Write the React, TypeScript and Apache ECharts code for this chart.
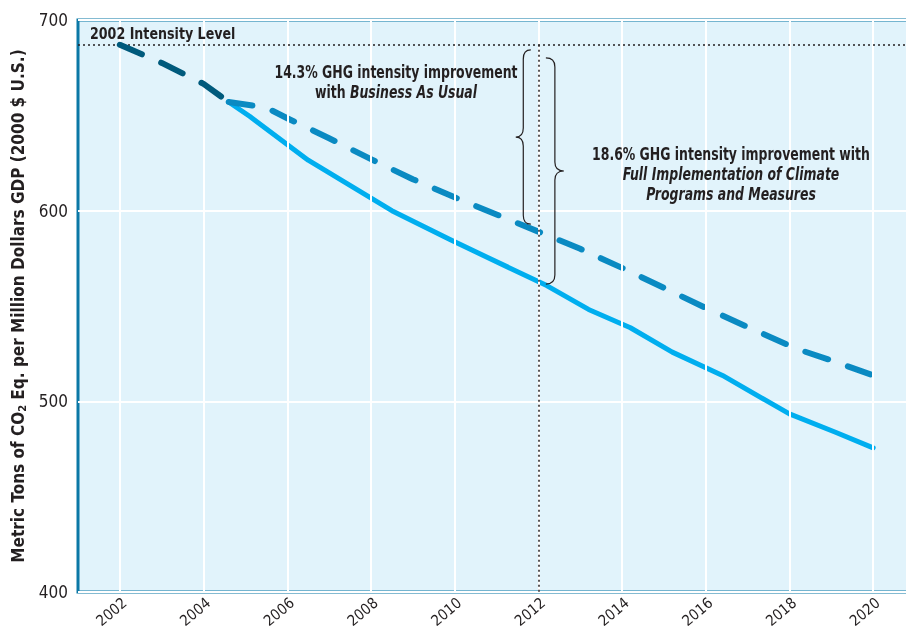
import { useEffect, useRef } from 'react';
import * as echarts from 'echarts';

const FONT = "'Liberation Sans Narrow', 'Arial Narrow', 'DejaVu Sans Condensed', 'Roboto Condensed', sans-serif";
const INK = '#231f20';

// ---- data ----
const xTickYears = [2002, 2004, 2006, 2008, 2010, 2012, 2014, 2016, 2018, 2020];
const yTickValues = [400, 500, 600, 700];
const intensity2002 = 687;
const markerYear = 2012;

// historical part (dark dashed)
const earlyYears = [2002, 2003, 2004, 2004.6];
const earlyValues = [687, 677.5, 666.5, 657];

// Business As Usual (dashed)
const bauYears = [2004.6, 2005.5, 2006, 2007, 2008, 2009, 2010, 2011, 2012, 2013, 2014, 2015, 2016, 2017, 2018.2, 2019, 2020];
const bauValues = [657, 654, 648.5, 638, 627, 616.5, 607, 598, 589, 580, 570, 559.5, 549, 539, 527.3, 521.5, 513.6];

// Full Implementation of Climate Programs and Measures (solid)
const fullYears = [2004.6, 2005.1, 2006.5, 2008.5, 2009.9, 2012.2, 2013.2, 2014.2, 2015.2, 2016.4, 2018, 2019.1, 2020];
const fullValues = [657, 649.5, 626.5, 600, 584.7, 560.7, 548.2, 538.6, 525.8, 513.6, 493.4, 483.8, 475.6];

// brace annotations (data units)
const braceBAU = { back: 2011.82, tip: 2011.46, top: 684.3, bottom: 592.9 };
const braceFull = { back: 2012.18, tip: 2012.61, top: 680.1, bottom: 561.5 };

const zip = (xs: number[], ys: number[]) => xs.map((x, i) => [x, ys[i]]);

function braceD(xb: number, xt: number, yTop: number, yBot: number) {
  const xm = (xb + xt) / 2;
  const ym = (yTop + yBot) / 2;
  const r = 9;
  return `M${xb} ${yTop} Q${xm} ${yTop} ${xm} ${yTop + r} L${xm} ${ym - r} Q${xm} ${ym} ${xt} ${ym} Q${xm} ${ym} ${xm} ${ym + r} L${xm} ${yBot - r} Q${xm} ${yBot} ${xb} ${yBot}`;
}

export default function App() {
  const ref = useRef<HTMLDivElement>(null);

  useEffect(() => {
    if (!ref.current) return;
    const chart = echarts.init(ref.current, null, { renderer: 'svg' });

    const option: any = {
      animation: false,
      grid: {
        left: 78,
        top: 20,
        width: 837,
        height: 572,
        show: true,
        backgroundColor: '#e1f3fb',
        borderColor: '#0b78a6',
        borderWidth: 3,
        outerBoundsMode: 'none',
        containLabel: false,
      },
      xAxis: {
        type: 'value',
        min: 2001,
        max: 2021,
        interval: 1,
        axisLine: { show: false },
        axisTick: { show: false, customValues: xTickYears },
        axisLabel: {
          customValues: xTickYears,
          rotate: 40,
          align: 'right',
          verticalAlign: 'top',
          margin: 3,
          fontFamily: FONT,
          fontSize: 15,
          color: INK,
          formatter: (v: number) => String(v),
        },
        splitLine: { show: false },
      },
      yAxis: {
        type: 'value',
        min: yTickValues[0],
        max: yTickValues[yTickValues.length - 1],
        interval: 100,
        axisLine: { show: false },
        axisTick: { show: false },
        axisLabel: { fontFamily: FONT, fontSize: 17, color: INK, margin: 10 },
        splitLine: { show: true, lineStyle: { color: '#ffffff', width: 2 } },
        name: '{m|Metric Tons of CO}{s|2}{m| Eq. per Million Dollars GDP (2000 $ U.S.)}',
        nameLocation: 'middle',
        nameGap: 50,
        nameTextStyle: {
          rich: {
            m: { fontFamily: FONT, fontWeight: 'bold', fontSize: 17, color: INK, lineHeight: 20 },
            s: { fontFamily: FONT, fontWeight: 'bold', fontSize: 11, color: INK, lineHeight: 8, verticalAlign: 'bottom' },
          },
        },
      },
      series: [
        {
          type: 'line',
          name: 'gridlines',
          data: [],
          z: 1,
          silent: true,
          markLine: {
            silent: true,
            symbol: ['none', 'none'],
            label: { show: false },
            lineStyle: { color: '#ffffff', width: 2, type: 'solid' },
            data: xTickYears.map((y) => ({ xAxis: y })),
          },
        },
        {
          type: 'line',
          name: 'guides',
          data: [],
          z: 2,
          silent: true,
          markLine: {
            silent: true,
            symbol: ['none', 'none'],
            label: { show: false },
            lineStyle: { color: INK, width: 1.5, type: [2, 3] },
            data: [
              { yAxis: intensity2002 },
              [{ coord: [markerYear, intensity2002] }, { coord: [markerYear, yTickValues[0]] }],
            ],
          },
        },
        {
          type: 'line',
          name: 'Full Implementation of Climate Programs and Measures',
          data: zip(fullYears, fullValues),
          symbol: 'none',
          z: 3,
          lineStyle: { color: '#00aeef', width: 5, cap: 'round', join: 'round' },
        },
        {
          type: 'line',
          name: 'Business As Usual',
          data: zip(bauYears, bauValues),
          symbol: 'none',
          z: 4,
          lineStyle: { color: '#0a8ac2', width: 6, type: [24, 21], cap: 'round', join: 'round' },
        },
        {
          type: 'line',
          name: 'Historical',
          data: zip(earlyYears, earlyValues),
          symbol: 'none',
          z: 5,
          lineStyle: { color: '#005a7c', width: 6, type: [24, 21], cap: 'round', join: 'round' },
        },
      ],
    };

    chart.setOption(option);

    const p = (x: number, y: number) => chart.convertToPixel({ gridIndex: 0 }, [x, y]) as number[];
    const mkBrace = (b: typeof braceBAU) => {
      const [xb, yt] = p(b.back, b.top);
      const [xt, yb] = p(b.tip, b.bottom);
      return braceD(xb, xt, yt, yb);
    };
    echarts.graphic.registerShape('braceBAU', echarts.graphic.extendPath(mkBrace(braceBAU), {}) as any);
    echarts.graphic.registerShape('braceFull', echarts.graphic.extendPath(mkBrace(braceFull), {}) as any);

    const boldTok = { fontFamily: FONT, fontWeight: 'bold', fontSize: 18, lineHeight: 20, fill: INK };
    const italTok = { ...boldTok, fontStyle: 'italic' };

    chart.setOption({
      graphic: [
        { type: 'braceBAU', x: 0, y: 0, z: 10, silent: true, style: { stroke: INK, fill: 'none', lineWidth: 1.2 } },
        { type: 'braceFull', x: 0, y: 0, z: 10, silent: true, style: { stroke: INK, fill: 'none', lineWidth: 1.2 } },
        {
          type: 'text',
          x: 90,
          y: 34,
          z: 10,
          scaleX: 0.88,
          silent: true,
          style: {
            text: '2002 Intensity Level',
            fontFamily: FONT,
            fontWeight: 'bold',
            fontSize: 16,
            fill: INK,
            align: 'left',
            verticalAlign: 'middle',
          },
        },
        {
          type: 'text',
          x: 396,
          y: 62,
          z: 10,
          scaleX: 0.77,
          silent: true,
          style: {
            text: '{b|14.3% GHG intensity improvement}\n{b|with }{i|Business As Usual}',
            rich: { b: boldTok, i: italTok },
            align: 'center',
            verticalAlign: 'top',
          },
        },
        {
          type: 'text',
          x: 731,
          y: 144,
          z: 10,
          scaleX: 0.77,
          silent: true,
          style: {
            text: '{b|18.6% GHG intensity improvement with}\n{i|Full Implementation of Climate}\n{i|Programs and Measures}',
            rich: { b: boldTok, i: italTok },
            align: 'center',
            verticalAlign: 'top',
          },
        },
      ],
    });

    return () => chart.dispose();
  }, []);

  return <div ref={ref} style={{ position: 'fixed', left: 0, top: 0, width: 906, height: 630 }} />;
}
